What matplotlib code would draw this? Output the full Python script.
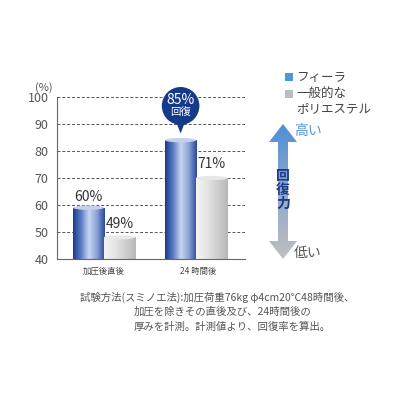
import matplotlib
matplotlib.use("Agg")
import matplotlib.pyplot as plt
import numpy as np
from matplotlib.colors import LinearSegmentedColormap
from matplotlib.patches import Ellipse, Rectangle, Polygon, Circle

plt.rcParams['font.family'] = ['Noto Sans CJK JP', 'DejaVu Sans']

categories = ["加圧後直後", "24 時間後"]
fira = [59, 84]
poly = [48, 70]
fira_labels = ["60%", "85%"]
poly_labels = ["49%", "71%"]
yticks = [40, 50, 60, 70, 80, 90, 100]

fig = plt.figure(figsize=(4, 4), dpi=100)
ax = fig.add_axes([0.1425, 0.3525, 0.47, 0.405])
ax.set_xlim(0, 2)
ax.set_ylim(40, 100)
ax.set_yticks(yticks)
ax.tick_params(axis='y', length=0, labelsize=9, colors='#555555', pad=6)
ax.set_xticks([0.5, 1.5])
ax.set_xticklabels(categories, fontsize=6, color='#444444')
ax.tick_params(axis='x', length=0, pad=6)
for s in ['top', 'right']:
    ax.spines[s].set_visible(False)
for s in ['left', 'bottom']:
    ax.spines[s].set_color('#666666')
for y in yticks[1:]:
    ax.axhline(y, color='#555555', ls=(0, (3, 2)), lw=0.7, zorder=0)
ax.text(-0.05, 103.5, "(%)", fontsize=8, color='#555555', ha='right', va='center')

blue = LinearSegmentedColormap.from_list('b', ['#1d3a8c', '#5a7cc4', '#c9d5f0', '#8aa2d8', '#2b4a9a'])
gray = LinearSegmentedColormap.from_list('g', ['#f4f4f4', '#e6e6e6', '#cfcfcf', '#b8b8b8'])
w = 0.33
cap = 1.6

def bar(xc, top, cmap, capc, lab):
    x0 = xc - w / 2
    grad = np.linspace(0, 1, 100).reshape(1, -1)
    im = ax.imshow(grad, cmap=cmap, aspect='auto', extent=[x0, x0 + w, 40, top], zorder=2)
    r = Rectangle((x0, 40), w, top - 40, transform=ax.transData)
    im.set_clip_path(r)
    ax.add_patch(Ellipse((xc, top), w, cap, facecolor=capc, edgecolor='none', zorder=3))
    return x0

for i, c in enumerate([0.5, 1.48]):
    bar(c - w / 2, fira[i], blue, '#c5d0ec', fira_labels[i])
    bar(c + w / 2, poly[i], gray, '#e8e8e8', poly_labels[i])
    if i == 0:
        ax.text(c - w / 2, fira[i] + 1.5, fira_labels[i], ha='center', va='bottom', fontsize=10, color='#333333')
    ax.text(c + w / 2, poly[i] + 2.5, poly_labels[i], ha='center', va='bottom', fontsize=10, color='#333333')

# callout
cx = 1.48 - w / 2
navy = '#163a8a'
ax.add_patch(Ellipse((cx, 96.7), 0.4, 14, facecolor=navy, edgecolor='none', zorder=5, clip_on=False))
ax.add_patch(Polygon([[cx - 0.05, 91], [cx + 0.05, 91], [cx, 86.5]], facecolor=navy, edgecolor='none', zorder=5, clip_on=False))
ax.text(cx, 99, "85%", ha='center', va='center', color='white', fontsize=10, zorder=6)
ax.text(cx, 94.6, "回復", ha='center', va='center', color='white', fontsize=7.5, zorder=6)

# recovery arrow
aax = fig.add_axes([0, 0, 1, 1])
aax.set_xlim(0, 400); aax.set_ylim(400, 0); aax.axis('off')
arrow = [[283, 124], [297, 142], [288, 142], [288, 241], [297, 241], [283, 259], [269, 241], [278, 241], [278, 142], [269, 142]]
g = np.linspace(0, 1, 100).reshape(-1, 1)
acm = LinearSegmentedColormap.from_list('a', ['#4f8fd6', '#8fa8cc', '#bfbfbf'])
im = aax.imshow(g, cmap=acm, aspect='auto', extent=[268, 298, 259, 124])
im.set_clip_path(Polygon(arrow, transform=aax.transData))
aax.text(294, 131, "高い", fontsize=10, color='#4f95d8', va='center')
aax.text(294, 253, "低い", fontsize=10, color='#555555', va='center')
aax.text(283, 190, "回\n復\n力", fontsize=10, color='#1a3a8a', va='center', ha='center', linespacing=1.0, fontweight='bold')

# legend
aax.add_patch(Rectangle((285, 73), 8, 8, facecolor='#4f95d8'))
aax.text(296, 77, "フィーラ", fontsize=9, color='#444444', va='center')
aax.add_patch(Rectangle((285, 90), 8, 8, facecolor='#bdbdbd'))
aax.text(296, 94, "一般的な", fontsize=9, color='#444444', va='center')
aax.text(296, 109, "ポリエステル", fontsize=9, color='#444444', va='center')

# footer
fc = '#555555'
aax.text(80, 297, "試験方法(スミノエ法):加圧荷重76kg φ4cm20℃48時間後、", fontsize=7.5, color=fc, va='center')
aax.text(134, 312, "加圧を除きその直後及び、24時間後の", fontsize=7.5, color=fc, va='center')
aax.text(134, 327, "厚みを計測。計測値より、回復率を算出。", fontsize=7.5, color=fc, va='center')

fig.savefig("out.png", dpi=100)
